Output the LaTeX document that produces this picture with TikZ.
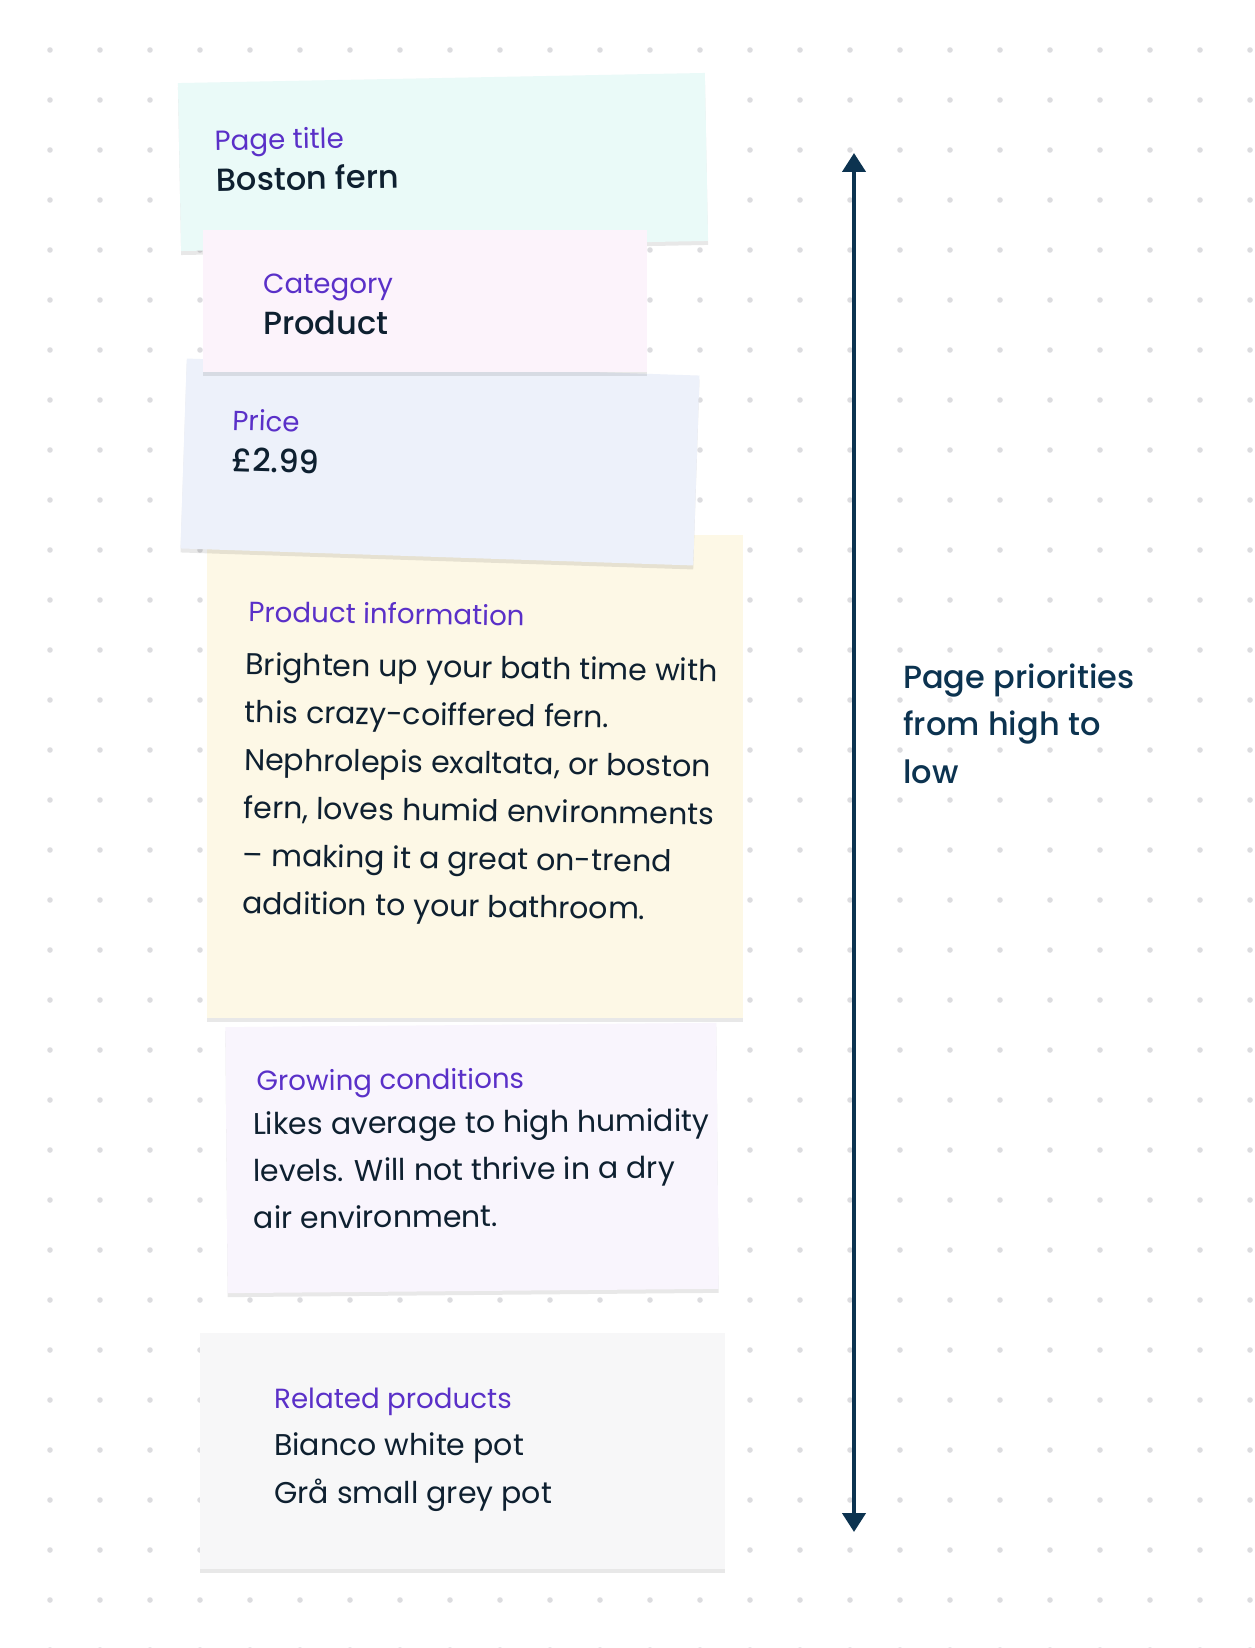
\documentclass[tikz,border=0pt]{standalone}
\usepackage{fontspec}
\setmainfont{Poppins}
\newfontfamily\popmed{Poppins}[UprightFont={* Medium}]
\usetikzlibrary{positioning,arrows.meta,shadows}

\definecolor{notecyan}{HTML}{EAFAF8}
\definecolor{notepink}{HTML}{FCF3FB}
\definecolor{noteblue}{HTML}{EDF1FA}
\definecolor{noteyellow}{HTML}{FDF8E6}
\definecolor{notelilac}{HTML}{F9F5FD}
\definecolor{notegrey}{HTML}{F7F7F8}
\definecolor{labelpurple}{HTML}{5A30C8}
\definecolor{inkdark}{HTML}{0E2030}
\definecolor{navy}{HTML}{0C3350}
\definecolor{dotgrey}{HTML}{DCDCDF}

\begin{document}
\begin{tikzpicture}[x=1pt,y=-1pt,
note/.style={
  fill=#1,
  inner sep=0pt,
  drop shadow={shadow xshift=0pt, shadow yshift=-4pt, fill=black, opacity=0.09}},
lbl/.style={
  anchor=base west,
  inner sep=0pt,
  text=labelpurple,
  font=\fontsize{27.7}{32}\selectfont},
val/.style={
  anchor=base west,
  inner sep=0pt,
  text=inkdark,
  font=\popmed\fontsize{32}{36}\selectfont},
body/.style={
  anchor=base west,
  inner sep=0pt,
  text=inkdark,
  font=\fontsize{30}{34}\selectfont},
prio/.style={
  anchor=base west,
  inner sep=0pt,
  text=navy,
  font=\popmed\fontsize{32}{38}\selectfont}
]
\useasboundingbox[fill=white] (0,0) rectangle (1254,1648);

% dotted canvas
\foreach \i in {1,...,25}
  \foreach \j in {1,...,33}
    \fill[dotgrey] (50*\i,50*\j) circle[radius=2.8pt];

% product information
\node[note=noteyellow, minimum width=536pt, minimum height=483pt]
  (info) at (475,776) {};
\begin{scope}[shift={(475,776)}, rotate=-0.8, transform shape]
  \node[lbl] (infolbl) at (-229,-151) {Product information};
  \foreach \txt [count=\k from 0] in {
      Brighten up your bath time with,
      this crazy-coiffered fern.,
      {Nephrolepis exaltata, or boston},
      {fern, loves humid environments},
      – making it a great on-trend,
      addition to your bathroom.}
    \node[body] (info\k) at (-231,-98+47.8*\k) {\txt};
\end{scope}

% price
\begin{scope}[shift={(440,462)}, rotate=-1.9, transform shape]
  \node[note=noteblue, minimum width=513pt, minimum height=190pt] (price) at (0,0) {};
  \node[lbl] (pricelbl) at (-209,-25) {Price};
  \node[val] (priceval) at (-208,16) {£2.99};
\end{scope}

% page title
\begin{scope}[shift={(443,162)}, rotate=1.1, transform shape]
  \node[note=notecyan, minimum width=527pt, minimum height=168pt] (title) at (0,0) {};
  \node[lbl] (titlelbl) at (-228,-16) {Page title};
  \node[val] (titleval) at (-227,25) {Boston fern};
\end{scope}

% category
\node[note=notepink, minimum width=444pt, minimum height=142pt] (cat) at (425,301) {};
\node[lbl] (catlbl) at (263,293) {Category};
\node[val] (catval) at (263,334) {Product};

% growing conditions
\begin{scope}[shift={(472,1158)}, rotate=0.5, transform shape]
  \node[note=notelilac, minimum width=491pt, minimum height=266pt] (grow) at (0,0) {};
  \node[lbl] (growlbl) at (-215,-69) {Growing conditions};
  \foreach \txt [count=\k from 0] in {
      Likes average to high humidity,
      levels. Will not thrive in a dry,
      air environment.}
    \node[body] (grow\k) at (-219,-25+47*\k) {\txt};
\end{scope}

% related products
\node[note=notegrey, minimum width=525pt, minimum height=236pt] (rel) at (462.5,1451) {};
\node[lbl] (rellbl) at (274,1408) {Related products};
\node[body] (relone) at (274,1455) {Bianco white pot};
\node[body] (reltwo) at (274,1503) {Grå small grey pot};

% priority arrow
\coordinate (hi) at (854,153);
\coordinate (lo) at (854,1532);
\draw[navy, line width=4.3pt,
  {Triangle[length=19pt,width=23pt]}-{Triangle[length=19pt,width=23pt]}] (hi) -- (lo);
\foreach \txt [count=\k from 0] in {Page priorities, from high to, low}
  \node[prio] (prio\k) at (903,688+47.5*\k) {\txt};
\end{tikzpicture}
\end{document}
